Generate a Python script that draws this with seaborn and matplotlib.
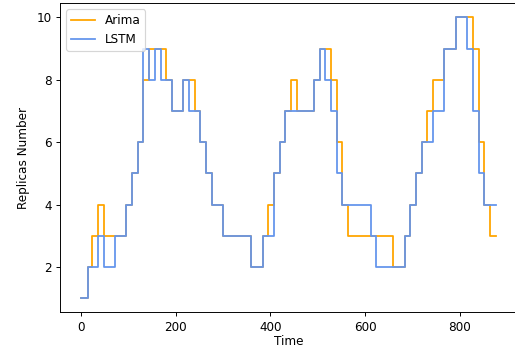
import pandas as pd
import matplotlib
matplotlib.use('Agg')
import matplotlib.pyplot as plt
import seaborn as sns

# Change points of the two step series (time, replicas)
arima_time = [0, 14, 24, 36, 48, 96, 108, 120, 132, 144, 180, 192, 216, 240, 252, 264,
              276, 300, 360, 384, 396, 408, 420, 432, 444, 456, 492, 504, 528, 540, 552,
              564, 660, 684, 696, 708, 720, 732, 744, 768, 792, 828, 840, 852, 864, 876]
arima_reps = [1, 2, 3, 4, 3, 4, 5, 6, 8, 9, 8, 7, 8, 7, 6, 5,
              4, 3, 2, 3, 4, 5, 6, 7, 8, 7, 8, 9, 8, 6, 4,
              3, 2, 3, 4, 5, 6, 7, 8, 9, 10, 9, 6, 4, 3, 3]

lstm_time = [0, 14, 36, 48, 72, 96, 108, 120, 132, 144, 156, 168, 192, 216, 228, 252,
             264, 276, 300, 360, 384, 408, 420, 432, 492, 504, 516, 528, 540, 552, 612,
             624, 684, 696, 708, 720, 744, 768, 792, 816, 828, 840, 852, 876]
lstm_reps = [1, 2, 3, 2, 3, 4, 5, 6, 9, 8, 9, 8, 7, 8, 7, 6,
             5, 4, 3, 2, 3, 5, 6, 7, 8, 9, 8, 7, 5, 4, 3,
             2, 3, 4, 5, 6, 7, 9, 10, 9, 7, 5, 4, 4]

df = pd.concat([
    pd.DataFrame({'Time': arima_time, 'Replicas': arima_reps, 'Model': 'Arima'}),
    pd.DataFrame({'Time': lstm_time, 'Replicas': lstm_reps, 'Model': 'LSTM'}),
], ignore_index=True)

dpi = 86
fig = plt.figure(figsize=(515 / dpi, 349 / dpi), dpi=dpi)
ax = fig.add_axes([60.3 / 515, 1 - 312.3 / 349, 456 / 515, 309 / 349])

sns.lineplot(data=df, x='Time', y='Replicas', hue='Model',
             palette={'Arima': 'orange', 'LSTM': 'cornflowerblue'},
             drawstyle='steps-post', linewidth=1.5, ax=ax)

ax.set_xlabel('Time', labelpad=1.5)
ax.set_ylabel('Replicas Number', labelpad=6)
ax.legend(loc='upper left', title=None)

plt.savefig('out.png', dpi=dpi)
plt.close()
